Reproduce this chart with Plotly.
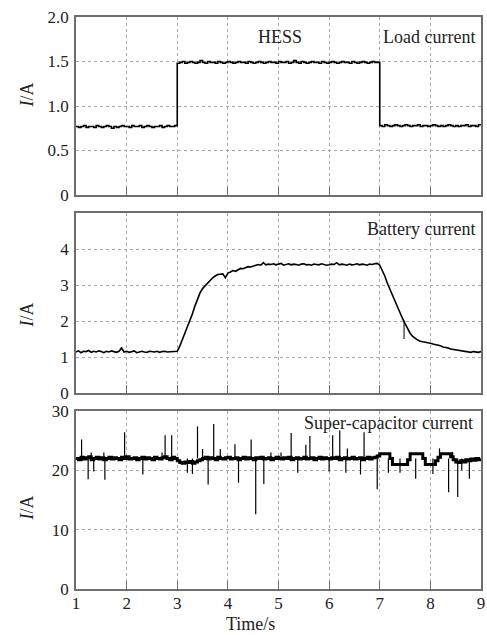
import numpy as np
import plotly.graph_objects as go
from plotly.subplots import make_subplots

# ---------------- data ----------------
# sampling grid (s)
time_s = [round(1.0 + 0.05 * i, 2) for i in range(161)]

load_current = [
    0.77, 0.76, 0.77, 0.78, 0.76, 0.77, 0.77, 0.76, 0.78, 0.77,
    0.76, 0.77, 0.78, 0.77, 0.75, 0.77, 0.76, 0.77, 0.78, 0.77,
    0.77, 0.76, 0.78, 0.77, 0.77, 0.78, 0.76, 0.77, 0.78, 0.77,
    0.76, 0.77, 0.77, 0.78, 0.76, 0.77, 0.78, 0.77, 0.77, 0.78,
    1.48, 1.49, 1.50, 1.48, 1.49, 1.50, 1.49, 1.48, 1.49, 1.51,
    1.49, 1.48, 1.50, 1.49, 1.49, 1.48, 1.50, 1.49, 1.48, 1.49,
    1.50, 1.49, 1.48, 1.49, 1.50, 1.49, 1.49, 1.48, 1.50, 1.49,
    1.48, 1.49, 1.50, 1.49, 1.48, 1.49, 1.50, 1.49, 1.49, 1.48,
    1.50, 1.49, 1.49, 1.50, 1.48, 1.49, 1.51, 1.49, 1.48, 1.50,
    1.49, 1.48, 1.49, 1.50, 1.49, 1.49, 1.48, 1.50, 1.49, 1.48,
    1.49, 1.50, 1.49, 1.48, 1.49, 1.50, 1.49, 1.49, 1.48, 1.50,
    1.49, 1.48, 1.49, 1.50, 1.49, 1.48, 1.49, 1.50, 1.49, 1.49,
    0.78, 0.77, 0.79, 0.78, 0.77, 0.78, 0.79, 0.78, 0.77, 0.78,
    0.79, 0.78, 0.77, 0.78, 0.78, 0.79, 0.77, 0.78, 0.78, 0.77,
    0.78, 0.79, 0.78, 0.77, 0.78, 0.77, 0.78, 0.79, 0.78, 0.77,
    0.78, 0.77, 0.78, 0.78, 0.79, 0.77, 0.78, 0.78, 0.77, 0.79,
    0.78,
]

battery_current = [
    1.14, 1.17, 1.12, 1.16, 1.15, 1.18, 1.13, 1.16, 1.14, 1.17,
    1.15, 1.12, 1.16, 1.14, 1.17, 1.15, 1.13, 1.16, 1.25, 1.14,
    1.16, 1.13, 1.15, 1.17, 1.12, 1.15, 1.16, 1.14, 1.13, 1.16,
    1.15, 1.14, 1.16, 1.13, 1.15, 1.16, 1.14, 1.15, 1.16, 1.15,
    1.16, 1.30, 1.48, 1.64, 1.82, 2.00, 2.20, 2.42, 2.62, 2.78,
    2.90, 2.98, 3.06, 3.14, 3.20, 3.25, 3.29, 3.30, 3.31, 3.20,
    3.33, 3.36, 3.40, 3.38, 3.43, 3.46, 3.45, 3.49, 3.51, 3.50,
    3.53, 3.55, 3.57, 3.55, 3.62, 3.56, 3.58, 3.57, 3.59, 3.56,
    3.58, 3.60, 3.55, 3.57, 3.59, 3.56, 3.58, 3.57, 3.55, 3.58,
    3.59, 3.56, 3.57, 3.55, 3.58, 3.57, 3.56, 3.59, 3.57, 3.55,
    3.56, 3.58, 3.57, 3.62, 3.56, 3.58, 3.57, 3.55, 3.58, 3.56,
    3.57, 3.59, 3.56, 3.58, 3.57, 3.55, 3.58, 3.57, 3.59, 3.60,
    3.55, 3.42, 3.25, 3.05, 2.88, 2.72, 2.55, 2.40, 2.24, 2.07,
    1.93, 1.78, 1.66, 1.57, 1.51, 1.47, 1.44, 1.43, 1.41, 1.40,
    1.38, 1.36, 1.35, 1.33, 1.31, 1.28, 1.27, 1.25, 1.22, 1.21,
    1.19, 1.17, 1.16, 1.15, 1.16, 1.14, 1.13, 1.15, 1.14, 1.13,
    1.15,
]
battery_glitch_t = [7.48]
battery_glitch_from = [2.0]
battery_glitch_to = [1.5]

supercap_base = [
    22.0, 21.8, 22.2, 21.9, 22.1, 22.3, 21.8, 22.0, 22.2, 21.9,
    22.1, 21.8, 22.0, 22.2, 21.9, 22.1, 22.0, 21.8, 22.2, 22.0,
    22.3, 21.9, 22.0, 22.1, 21.8, 22.0, 22.2, 21.9, 22.1, 22.0,
    21.8, 22.2, 22.0, 21.9, 22.1, 22.3, 22.0, 21.8, 22.2, 22.0,
    21.6, 21.3, 21.2, 21.4, 21.3, 21.5, 21.2, 21.4, 21.6, 21.8,
    22.0, 22.2, 21.9, 22.1, 22.0, 21.8, 22.2, 22.0, 21.9, 22.1,
    22.2, 21.9, 22.0, 22.1, 21.8, 22.0, 22.2, 21.9, 22.1, 22.0,
    21.8, 22.1, 22.0, 22.2, 21.9, 22.0, 22.1, 21.8, 22.0, 22.2,
    22.0, 21.9, 22.1, 22.0, 22.2, 21.8, 22.0, 22.1, 21.9, 22.0,
    22.2, 21.9, 22.0, 22.1, 21.8, 22.0, 22.2, 21.9, 22.1, 22.0,
    21.9, 22.1, 22.0, 22.2, 21.8, 22.0, 22.1, 21.9, 22.0, 22.2,
    21.9, 22.0, 22.1, 21.8, 22.0, 22.2, 21.9, 22.1, 22.2, 22.4,
    22.8, 22.8, 22.8, 22.8, 22.0, 21.0, 21.0, 21.0, 21.0, 21.0,
    21.0, 21.8, 22.8, 22.8, 22.8, 22.8, 22.8, 22.0, 21.0, 21.0,
    21.0, 21.0, 21.6, 22.2, 22.8, 22.8, 22.8, 22.8, 22.3, 21.8,
    21.4, 21.3, 21.6, 21.4, 21.8, 21.6, 21.9, 21.7, 22.0, 21.8,
    22.0,
]
spike_t = [1.11, 1.30, 1.55, 1.96, 2.70, 2.76, 2.89, 3.40, 3.50, 3.72,
           3.85, 4.14, 4.46, 4.85, 5.05, 5.25, 5.54, 5.62, 6.07, 6.21,
           6.36, 6.69, 8.18, 8.44,
           1.24, 1.35, 1.57, 2.32, 3.20, 3.30, 3.61, 4.21, 4.55, 4.71,
           5.38, 6.00, 6.33, 6.62, 6.95, 7.17, 7.40, 7.71, 8.05, 8.36,
           8.54, 8.62, 8.77]
spike_v = [25.2, 23.0, 23.0, 26.4, 23.0, 25.9, 25.9, 27.4, 23.6, 27.8,
           23.6, 24.4, 25.2, 23.0, 23.0, 26.3, 24.3, 25.8, 25.9, 26.7,
           23.7, 26.4, 23.7, 23.1,
           18.5, 19.8, 18.4, 19.3, 19.6, 19.4, 17.6, 17.9, 12.6, 17.7,
           19.6, 19.8, 19.6, 19.3, 16.8, 19.6, 19.6, 18.6, 19.4, 16.3,
           15.5, 20.0, 18.6]
spike_base = 22.0

x_ticks = [1, 2, 3, 4, 5, 6, 7, 8, 9]
y1_ticks = [0, 0.5, 1.0, 1.5, 2.0]
y1_labels = ["0", "0.5", "1.0", "1.5", "2.0"]
y2_ticks = [0, 1, 2, 3, 4]
y3_ticks = [0, 10, 20, 30]

# ---------------- figure ----------------
W, H = 487, 635
L, R, T, B = 76, 2, 17, 46
ph = H - T - B


def dom(top_px, bot_px):
    return [(H - B - bot_px) / ph, (H - B - top_px) / ph]


fig = make_subplots(rows=3, cols=1, shared_xaxes=False)
fig.update_layout(
    yaxis=dict(domain=dom(17, 195)),
    yaxis2=dict(domain=dom(213, 393)),
    yaxis3=dict(domain=dom(411, 589)),
)

fig.add_trace(go.Scatter(x=time_s, y=load_current, mode="lines", line_shape="hv",
                         line=dict(color="black", width=1.6)), row=1, col=1)
fig.add_trace(go.Scatter(x=time_s, y=battery_current, mode="lines",
                         line=dict(color="black", width=1.6)), row=2, col=1)
gx, gy = [], []
for t, a, b in zip(battery_glitch_t, battery_glitch_from, battery_glitch_to):
    gx += [t, t, None]
    gy += [a, b, None]
fig.add_trace(go.Scatter(x=gx, y=gy, mode="lines",
                         line=dict(color="black", width=1)), row=2, col=1)

sx, sy = [], []
for t, v in zip(spike_t, spike_v):
    sx += [t, t, None]
    sy += [spike_base, v, None]
fig.add_trace(go.Scatter(x=sx, y=sy, mode="lines",
                         line=dict(color="black", width=1.2)), row=3, col=1)
fig.add_trace(go.Scatter(x=time_s, y=supercap_base, mode="lines", line_shape="hv",
                         line=dict(color="black", width=3)), row=3, col=1)

font_family = "Liberation Serif"
axis_common = dict(showline=True, mirror=True, linecolor="#6e6e6e", linewidth=1.5,
                   showgrid=True, gridcolor="#a8a8a8", griddash="dot", gridwidth=1,
                   zeroline=False, tickfont=dict(family=font_family, size=17, color="#222"))

for i in range(1, 4):
    fig.update_xaxes(range=[1, 9], tickvals=x_ticks, ticks="inside", ticklen=8,
                     tickcolor="#6e6e6e", showticklabels=(i == 3), row=i, col=1,
                     ticklabeloverflow="allow", **axis_common)

fig.update_yaxes(range=[0, 2], tickvals=y1_ticks, ticktext=y1_labels, row=1, col=1, **axis_common)
fig.update_yaxes(range=[0, 5], tickvals=y2_ticks, row=2, col=1, **axis_common)
fig.update_yaxes(range=[0, 30], tickvals=y3_ticks, row=3, col=1, **axis_common)
fig.update_yaxes(ticks="", ticklabelstandoff=2)
fig.update_xaxes(ticklabelstandoff=-2)


def px_x(p):
    return (p - L) / (W - L - R)


def px_y(p):
    return (H - B - p) / ph


annots = [
    dict(text="HESS", x=px_x(282), y=px_y(37), xanchor="center"),
    dict(text="Load current", x=px_x(481), y=px_y(37), xanchor="right"),
    dict(text="Battery current", x=px_x(481), y=px_y(229), xanchor="right"),
    dict(text="Super-capacitor current", x=px_x(479), y=px_y(423), xanchor="right"),
    dict(text="Time/s", x=px_x(252), y=px_y(624), xanchor="center"),
]
for a in annots:
    fig.add_annotation(xref="paper", yref="paper", yanchor="middle", showarrow=False,
                       font=dict(family=font_family, size=18, color="#222"), **a)
for yp in [95, 315, 508]:
    fig.add_annotation(xref="paper", yref="paper", x=px_x(27), y=px_y(yp),
                       xanchor="center", yanchor="middle", textangle=-90, showarrow=False,
                       text="<i>I</i>/A", font=dict(family=font_family, size=18, color="#222"))

fig.update_layout(width=W, height=H, margin=dict(l=L, r=R, t=T, b=B),
                  paper_bgcolor="white", plot_bgcolor="white", showlegend=False)

fig.write_html("out.html", config={"displayModeBar": False},
               post_script="document.body.style.margin='0';document.body.style.overflow='hidden';")
